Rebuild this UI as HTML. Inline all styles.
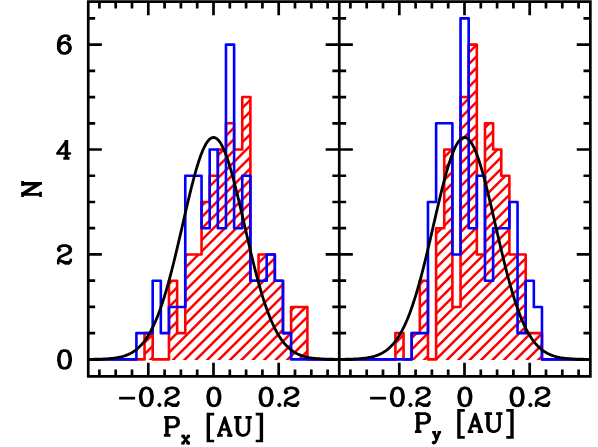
<!DOCTYPE html>
<html><head><meta charset="utf-8"><title>Histogram</title>
<style>html,body{margin:0;padding:0;background:#fff;font-family:"Liberation Sans",sans-serif}svg{display:block}</style>
</head><body>
<svg width="598" height="447" viewBox="0 0 598 447">
<rect width="598" height="447" fill="#fff"/>
<clipPath id="c1"><path d="M136.4 360 L136.4 359.4 L144.54 359.4 L144.54 333.16 L152.69 333.16 L152.69 359.4 L160.83 359.4 L160.83 359.4 L168.97 359.4 L168.97 280.69 L177.12 280.69 L177.12 333.16 L185.26 333.16 L185.26 254.46 L193.4 254.46 L193.4 254.46 L201.54 254.46 L201.54 201.99 L209.69 201.99 L209.69 175.75 L217.83 175.75 L217.83 149.52 L225.97 149.52 L225.97 123.28 L234.12 123.28 L234.12 149.52 L242.26 149.52 L242.26 97.05 L250.4 97.05 L250.4 280.69 L258.55 280.69 L258.55 254.46 L266.69 254.46 L266.69 254.46 L274.83 254.46 L274.83 280.69 L282.97 280.69 L282.97 333.16 L291.12 333.16 L291.12 306.93 L299.26 306.93 L299.26 306.93 L307.4 306.93 L307.4 360 Z"/></clipPath>
<path clip-path="url(#c1)" d="M-162.45 364.4 L109.9 92.05 M-151.03 364.4 L121.32 92.05 M-139.62 364.4 L132.73 92.05 M-128.2 364.4 L144.15 92.05 M-116.79 364.4 L155.56 92.05 M-105.38 364.4 L166.98 92.05 M-93.96 364.4 L178.39 92.05 M-82.54 364.4 L189.81 92.05 M-71.13 364.4 L201.22 92.05 M-59.71 364.4 L212.64 92.05 M-48.3 364.4 L224.05 92.05 M-36.88 364.4 L235.47 92.05 M-25.47 364.4 L246.88 92.05 M-14.05 364.4 L258.3 92.05 M-2.64 364.4 L269.71 92.05 M8.77 364.4 L281.12 92.05 M20.19 364.4 L292.54 92.05 M31.61 364.4 L303.96 92.05 M43.02 364.4 L315.37 92.05 M54.44 364.4 L326.79 92.05 M65.85 364.4 L338.2 92.05 M77.26 364.4 L349.62 92.05 M88.68 364.4 L361.03 92.05 M100.1 364.4 L372.45 92.05 M111.51 364.4 L383.86 92.05 M122.93 364.4 L395.28 92.05 M134.34 364.4 L406.69 92.05 M145.75 364.4 L418.11 92.05 M157.17 364.4 L429.52 92.05 M168.59 364.4 L440.94 92.05 M180 364.4 L452.35 92.05 M191.41 364.4 L463.76 92.05 M202.83 364.4 L475.18 92.05 M214.25 364.4 L486.6 92.05 M225.66 364.4 L498.01 92.05 M237.08 364.4 L509.43 92.05 M248.49 364.4 L520.84 92.05 M259.9 364.4 L532.25 92.05 M271.32 364.4 L543.67 92.05 M282.74 364.4 L555.09 92.05 M294.15 364.4 L566.5 92.05 M305.56 364.4 L577.91 92.05 M316.98 364.4 L589.33 92.05 M328.39 364.4 L600.75 92.05" stroke="#f00" stroke-width="2.5" fill="none"/>
<clipPath id="c2"><path d="M395.4 360 L395.4 333.16 L403.54 333.16 L403.54 359.4 L411.69 359.4 L411.69 333.16 L419.83 333.16 L419.83 280.69 L427.97 280.69 L427.97 359.4 L436.12 359.4 L436.12 228.22 L444.26 228.22 L444.26 149.52 L452.4 149.52 L452.4 306.93 L460.54 306.93 L460.54 97.05 L468.69 97.05 L468.69 44.58 L476.83 44.58 L476.83 254.46 L484.97 254.46 L484.97 123.28 L493.12 123.28 L493.12 149.52 L501.26 149.52 L501.26 175.75 L509.4 175.75 L509.4 254.46 L517.54 254.46 L517.54 254.46 L525.69 254.46 L525.69 333.16 L533.83 333.16 L533.83 333.16 L541.97 333.16 L541.97 360 Z"/></clipPath>
<path clip-path="url(#c2)" d="M42.98 364.4 L367.8 39.58 M54.39 364.4 L379.21 39.58 M65.81 364.4 L390.62 39.58 M77.22 364.4 L402.04 39.58 M88.64 364.4 L413.46 39.58 M100.05 364.4 L424.87 39.58 M111.47 364.4 L436.29 39.58 M122.88 364.4 L447.7 39.58 M134.3 364.4 L459.12 39.58 M145.71 364.4 L470.53 39.58 M157.12 364.4 L481.94 39.58 M168.54 364.4 L493.36 39.58 M179.96 364.4 L504.78 39.58 M191.37 364.4 L516.19 39.58 M202.78 364.4 L527.61 39.58 M214.2 364.4 L539.02 39.58 M225.62 364.4 L550.43 39.58 M237.03 364.4 L561.85 39.58 M248.45 364.4 L573.27 39.58 M259.86 364.4 L584.68 39.58 M271.27 364.4 L596.1 39.58 M282.69 364.4 L607.51 39.58 M294.11 364.4 L618.92 39.58 M305.52 364.4 L630.34 39.58 M316.94 364.4 L641.76 39.58 M328.35 364.4 L653.17 39.58 M339.76 364.4 L664.59 39.58 M351.18 364.4 L676 39.58 M362.6 364.4 L687.41 39.58 M374.01 364.4 L698.83 39.58 M385.42 364.4 L710.24 39.58 M396.84 364.4 L721.66 39.58 M408.25 364.4 L733.08 39.58 M419.67 364.4 L744.49 39.58 M431.09 364.4 L755.9 39.58 M442.5 364.4 L767.32 39.58 M453.91 364.4 L778.73 39.58 M465.33 364.4 L790.15 39.58 M476.75 364.4 L801.57 39.58 M488.16 364.4 L812.98 39.58 M499.58 364.4 L824.39 39.58 M510.99 364.4 L835.81 39.58 M522.4 364.4 L847.22 39.58 M533.82 364.4 L858.64 39.58 M545.24 364.4 L870.06 39.58 M556.65 364.4 L881.47 39.58 M568.06 364.4 L892.88 39.58" stroke="#f00" stroke-width="2.5" fill="none"/>
<path d="M88.25 359.4 L144.54 359.4 L144.54 333.16 L152.69 333.16 L152.69 359.4 L168.97 359.4 L168.97 280.69 L177.12 280.69 L177.12 333.16 L185.26 333.16 L185.26 254.46 L201.54 254.46 L201.54 201.99 L209.69 201.99 L209.69 175.75 L217.83 175.75 L217.83 149.52 L225.97 149.52 L225.97 123.28 L234.12 123.28 L234.12 149.52 L242.26 149.52 L242.26 97.05 L250.4 97.05 L250.4 280.69 L258.55 280.69 L258.55 254.46 L274.83 254.46 L274.83 280.69 L282.97 280.69 L282.97 333.16 L291.12 333.16 L291.12 306.93 L307.4 306.93 L307.4 359.4 L339.25 359.4" stroke="#f00" stroke-width="2.6" fill="none" stroke-linejoin="round"/>
<path d="M339.25 359.4 L395.4 359.4 L395.4 333.16 L403.54 333.16 L403.54 359.4 L411.69 359.4 L411.69 333.16 L419.83 333.16 L419.83 280.69 L427.97 280.69 L427.97 359.4 L436.12 359.4 L436.12 228.22 L444.26 228.22 L444.26 149.52 L452.4 149.52 L452.4 306.93 L460.54 306.93 L460.54 97.05 L468.69 97.05 L468.69 44.58 L476.83 44.58 L476.83 254.46 L484.97 254.46 L484.97 123.28 L493.12 123.28 L493.12 149.52 L501.26 149.52 L501.26 175.75 L509.4 175.75 L509.4 254.46 L525.69 254.46 L525.69 333.16 L541.97 333.16 L541.97 359.4 L590.35 359.4" stroke="#f00" stroke-width="2.6" fill="none" stroke-linejoin="round"/>
<path d="M88.25 359.4 L136.4 359.4 L136.4 333.16 L152.69 333.16 L152.69 280.69 L160.83 280.69 L160.83 333.16 L168.97 333.16 L168.97 306.93 L185.26 306.93 L185.26 175.75 L201.54 175.75 L201.54 228.22 L209.69 228.22 L209.69 149.52 L217.83 149.52 L217.83 228.22 L225.97 228.22 L225.97 44.58 L234.12 44.58 L234.12 228.22 L242.26 228.22 L242.26 175.75 L250.4 175.75 L250.4 280.69 L266.69 280.69 L266.69 254.46 L274.83 254.46 L274.83 280.69 L282.97 280.69 L282.97 333.16 L291.12 333.16 L291.12 359.4 L339.25 359.4" stroke="#00f" stroke-width="2.6" fill="none" stroke-linejoin="round"/>
<path d="M339.25 359.4 L411.69 359.4 L411.69 333.16 L427.97 333.16 L427.97 201.99 L436.12 201.99 L436.12 123.28 L452.4 123.28 L452.4 254.46 L460.54 254.46 L460.54 18.34 L468.69 18.34 L468.69 228.22 L476.83 228.22 L476.83 175.75 L484.97 175.75 L484.97 280.69 L493.12 280.69 L493.12 228.22 L509.4 228.22 L509.4 201.99 L517.54 201.99 L517.54 333.16 L525.69 333.16 L525.69 280.69 L533.83 280.69 L533.83 306.93 L541.97 306.93 L541.97 359.4 L590.35 359.4" stroke="#00f" stroke-width="2.6" fill="none" stroke-linejoin="round"/>
<path d="M88.25 359.34 L89.5 359.33 L90.76 359.32 L92.02 359.3 L93.27 359.29 L94.53 359.27 L95.78 359.24 L97.03 359.22 L98.29 359.19 L99.55 359.15 L100.8 359.11 L102.06 359.07 L103.31 359.01 L104.56 358.96 L105.82 358.89 L107.08 358.81 L108.33 358.72 L109.59 358.62 L110.84 358.51 L112.09 358.38 L113.35 358.24 L114.61 358.07 L115.86 357.89 L117.11 357.69 L118.37 357.46 L119.62 357.2 L120.88 356.91 L122.13 356.59 L123.39 356.24 L124.65 355.84 L125.9 355.4 L127.16 354.92 L128.41 354.39 L129.66 353.8 L130.92 353.15 L132.18 352.44 L133.43 351.66 L134.69 350.81 L135.94 349.88 L137.19 348.87 L138.45 347.77 L139.7 346.57 L140.96 345.28 L142.22 343.88 L143.47 342.37 L144.72 340.74 L145.98 338.99 L147.24 337.12 L148.49 335.11 L149.75 332.97 L151 330.68 L152.25 328.25 L153.51 325.67 L154.76 322.93 L156.02 320.04 L157.28 316.98 L158.53 313.77 L159.78 310.39 L161.04 306.85 L162.3 303.15 L163.55 299.28 L164.81 295.26 L166.06 291.08 L167.31 286.74 L168.57 282.26 L169.82 277.63 L171.08 272.88 L172.33 267.99 L173.59 262.99 L174.84 257.88 L176.1 252.68 L177.36 247.4 L178.61 242.05 L179.87 236.64 L181.12 231.2 L182.38 225.74 L183.63 220.28 L184.88 214.83 L186.14 209.41 L187.39 204.05 L188.65 198.76 L189.91 193.56 L191.16 188.48 L192.42 183.54 L193.67 178.75 L194.93 174.13 L196.18 169.71 L197.44 165.5 L198.69 161.53 L199.94 157.81 L201.2 154.35 L202.45 151.18 L203.71 148.31 L204.97 145.76 L206.22 143.53 L207.47 141.63 L208.73 140.08 L209.99 138.88 L211.24 138.04 L212.5 137.57 L213.75 137.46 L215 137.71 L216.26 138.34 L217.51 139.32 L218.77 140.66 L220.03 142.34 L221.28 144.37 L222.53 146.74 L223.79 149.42 L225.04 152.41 L226.3 155.69 L227.56 159.26 L228.81 163.08 L230.06 167.15 L231.32 171.44 L232.57 175.95 L233.83 180.63 L235.09 185.49 L236.34 190.49 L237.59 195.62 L238.85 200.86 L240.1 206.18 L241.36 211.56 L242.62 216.99 L243.87 222.45 L245.12 227.92 L246.38 233.37 L247.63 238.8 L248.89 244.19 L250.15 249.51 L251.4 254.76 L252.66 259.93 L253.91 265 L255.16 269.95 L256.42 274.79 L257.68 279.49 L258.93 284.06 L260.19 288.49 L261.44 292.76 L262.69 296.88 L263.95 300.84 L265.21 304.64 L266.46 308.28 L267.72 311.76 L268.97 315.07 L270.23 318.22 L271.48 321.21 L272.74 324.04 L273.99 326.71 L275.25 329.24 L276.5 331.61 L277.75 333.84 L279.01 335.93 L280.26 337.88 L281.52 339.71 L282.77 341.4 L284.03 342.98 L285.28 344.45 L286.54 345.81 L287.79 347.06 L289.05 348.22 L290.31 349.28 L291.56 350.26 L292.81 351.16 L294.07 351.98 L295.32 352.73 L296.58 353.42 L297.84 354.04 L299.09 354.61 L300.35 355.12 L301.6 355.58 L302.86 356 L304.11 356.38 L305.37 356.72 L306.62 357.03 L307.88 357.3 L309.13 357.55 L310.38 357.77 L311.64 357.97 L312.89 358.14 L314.15 358.3 L315.4 358.43 L316.66 358.56 L317.91 358.66 L319.17 358.76 L320.43 358.84 L321.68 358.92 L322.94 358.98 L324.19 359.04 L325.44 359.09 L326.7 359.13 L327.96 359.17 L329.21 359.2 L330.47 359.23 L331.72 359.25 L332.98 359.27 L334.23 359.29 L335.49 359.31 L336.74 359.32 L338 359.33 L339.25 359.34" stroke="#000" stroke-width="2.8" fill="none" stroke-linejoin="round"/>
<path d="M339.25 359.34 L340.51 359.33 L341.76 359.32 L343.02 359.3 L344.27 359.29 L345.53 359.27 L346.78 359.24 L348.04 359.22 L349.29 359.19 L350.55 359.15 L351.81 359.11 L353.06 359.07 L354.32 359.01 L355.57 358.95 L356.83 358.89 L358.08 358.81 L359.34 358.72 L360.59 358.62 L361.85 358.51 L363.1 358.38 L364.36 358.23 L365.62 358.07 L366.87 357.89 L368.13 357.68 L369.38 357.45 L370.64 357.2 L371.89 356.91 L373.15 356.59 L374.4 356.23 L375.66 355.84 L376.92 355.4 L378.17 354.91 L379.43 354.38 L380.68 353.79 L381.94 353.14 L383.19 352.43 L384.45 351.65 L385.7 350.8 L386.96 349.87 L388.21 348.85 L389.47 347.75 L390.73 346.55 L391.98 345.26 L393.24 343.85 L394.49 342.34 L395.75 340.71 L397 338.96 L398.26 337.08 L399.51 335.07 L400.77 332.92 L402.02 330.64 L403.28 328.2 L404.54 325.61 L405.79 322.87 L407.05 319.97 L408.3 316.92 L409.56 313.7 L410.81 310.31 L412.07 306.77 L413.32 303.06 L414.58 299.19 L415.84 295.16 L417.09 290.97 L418.35 286.63 L419.6 282.14 L420.86 277.51 L422.11 272.75 L423.37 267.86 L424.62 262.85 L425.88 257.74 L427.13 252.54 L428.39 247.25 L429.65 241.89 L430.9 236.49 L432.16 231.04 L433.41 225.58 L434.67 220.11 L435.92 214.66 L437.18 209.24 L438.43 203.88 L439.69 198.59 L440.95 193.4 L442.2 188.32 L443.46 183.38 L444.71 178.59 L445.97 173.98 L447.22 169.56 L448.48 165.36 L449.73 161.39 L450.99 157.68 L452.25 154.23 L453.5 151.07 L454.76 148.21 L456.01 145.67 L457.27 143.45 L458.52 141.56 L459.78 140.03 L461.03 138.84 L462.29 138.02 L463.54 137.56 L464.8 137.46 L466.06 137.73 L467.31 138.37 L468.57 139.36 L469.82 140.72 L471.08 142.42 L472.33 144.47 L473.59 146.84 L474.84 149.54 L476.1 152.55 L477.36 155.85 L478.61 159.42 L479.87 163.26 L481.12 167.34 L482.38 171.64 L483.63 176.16 L484.89 180.86 L486.14 185.72 L487.4 190.73 L488.65 195.87 L489.91 201.11 L491.17 206.44 L492.42 211.83 L493.68 217.26 L494.93 222.72 L496.19 228.19 L497.44 233.65 L498.7 239.08 L499.95 244.46 L501.21 249.78 L502.47 255.03 L503.72 260.2 L504.98 265.26 L506.23 270.21 L507.49 275.04 L508.74 279.74 L510 284.3 L511.25 288.72 L512.51 292.99 L513.76 297.1 L515.02 301.06 L516.28 304.85 L517.53 308.48 L518.79 311.95 L520.04 315.25 L521.3 318.4 L522.55 321.38 L523.81 324.2 L525.06 326.87 L526.32 329.38 L527.58 331.75 L528.83 333.97 L530.09 336.05 L531.34 338 L532.6 339.81 L533.85 341.51 L535.11 343.08 L536.36 344.54 L537.62 345.89 L538.87 347.14 L540.13 348.29 L541.39 349.35 L542.64 350.32 L543.9 351.21 L545.15 352.03 L546.41 352.78 L547.66 353.46 L548.92 354.08 L550.17 354.64 L551.43 355.15 L552.69 355.61 L553.94 356.03 L555.2 356.41 L556.45 356.75 L557.71 357.05 L558.96 357.32 L560.22 357.57 L561.47 357.78 L562.73 357.98 L563.98 358.15 L565.24 358.31 L566.5 358.44 L567.75 358.56 L569.01 358.67 L570.26 358.76 L571.52 358.85 L572.77 358.92 L574.03 358.98 L575.28 359.04 L576.54 359.09 L577.8 359.13 L579.05 359.17 L580.31 359.2 L581.56 359.23 L582.82 359.25 L584.07 359.28 L585.33 359.29 L586.58 359.31 L587.84 359.32 L589.09 359.33 L590.35 359.34" stroke="#000" stroke-width="2.8" fill="none" stroke-linejoin="round"/>
<path d="M88.25 1.55 H590.35 V376.3 H88.25 Z M339.25 1.55 V376.3 M99.4 1.55 v6.9 M99.4 376.3 v-6.9 M115.7 1.55 v6.9 M115.7 376.3 v-6.9 M132 1.55 v6.9 M132 376.3 v-6.9 M148.3 1.55 v13.6 M148.3 376.3 v-13.6 M164.6 1.55 v6.9 M164.6 376.3 v-6.9 M180.9 1.55 v6.9 M180.9 376.3 v-6.9 M197.2 1.55 v6.9 M197.2 376.3 v-6.9 M213.5 1.55 v13.6 M213.5 376.3 v-13.6 M229.8 1.55 v6.9 M229.8 376.3 v-6.9 M246.1 1.55 v6.9 M246.1 376.3 v-6.9 M262.4 1.55 v6.9 M262.4 376.3 v-6.9 M278.7 1.55 v13.6 M278.7 376.3 v-13.6 M295 1.55 v6.9 M295 376.3 v-6.9 M311.3 1.55 v6.9 M311.3 376.3 v-6.9 M327.6 1.55 v6.9 M327.6 376.3 v-6.9 M350.4 1.55 v6.9 M350.4 376.3 v-6.9 M366.7 1.55 v6.9 M366.7 376.3 v-6.9 M383 1.55 v6.9 M383 376.3 v-6.9 M399.3 1.55 v13.6 M399.3 376.3 v-13.6 M415.6 1.55 v6.9 M415.6 376.3 v-6.9 M431.9 1.55 v6.9 M431.9 376.3 v-6.9 M448.2 1.55 v6.9 M448.2 376.3 v-6.9 M464.5 1.55 v13.6 M464.5 376.3 v-13.6 M480.8 1.55 v6.9 M480.8 376.3 v-6.9 M497.1 1.55 v6.9 M497.1 376.3 v-6.9 M513.4 1.55 v6.9 M513.4 376.3 v-6.9 M529.7 1.55 v13.6 M529.7 376.3 v-13.6 M546 1.55 v6.9 M546 376.3 v-6.9 M562.3 1.55 v6.9 M562.3 376.3 v-6.9 M578.6 1.55 v6.9 M578.6 376.3 v-6.9 M88.25 359.4 h13.6 M325.65 359.4 h27.2 M590.35 359.4 h-13.6 M88.25 333.16 h6.9 M332.35 333.16 h13.8 M590.35 333.16 h-6.9 M88.25 306.93 h6.9 M332.35 306.93 h13.8 M590.35 306.93 h-6.9 M88.25 280.69 h6.9 M332.35 280.69 h13.8 M590.35 280.69 h-6.9 M88.25 254.46 h13.6 M325.65 254.46 h27.2 M590.35 254.46 h-13.6 M88.25 228.22 h6.9 M332.35 228.22 h13.8 M590.35 228.22 h-6.9 M88.25 201.99 h6.9 M332.35 201.99 h13.8 M590.35 201.99 h-6.9 M88.25 175.75 h6.9 M332.35 175.75 h13.8 M590.35 175.75 h-6.9 M88.25 149.52 h13.6 M325.65 149.52 h27.2 M590.35 149.52 h-13.6 M88.25 123.28 h6.9 M332.35 123.28 h13.8 M590.35 123.28 h-6.9 M88.25 97.05 h6.9 M332.35 97.05 h13.8 M590.35 97.05 h-6.9 M88.25 70.81 h6.9 M332.35 70.81 h13.8 M590.35 70.81 h-6.9 M88.25 44.58 h13.6 M325.65 44.58 h27.2 M590.35 44.58 h-13.6 M88.25 18.34 h6.9 M332.35 18.34 h13.8 M590.35 18.34 h-6.9" stroke="#000" stroke-width="2.7" fill="none" stroke-linejoin="miter"/>
<path d="M68.79 38.26 L67.91 39.1 L68.79 39.94 L69.67 39.1 L69.67 38.26 L68.79 36.57 L67.04 35.73 L64.4 35.73 L61.76 36.57 L60.01 38.26 L59.13 39.94 L58.25 43.32 L58.25 48.37 L59.13 50.9 L60.89 52.59 L63.52 53.43 L65.28 53.43 L67.91 52.59 L69.67 50.9 L70.55 48.37 L70.55 47.53 L69.67 45 L67.91 43.32 L65.28 42.47 L64.4 42.47 L61.76 43.32 L60.01 45 L59.13 47.53 M64.4 35.73 L62.64 36.57 L60.89 38.26 L60.01 39.94 L59.13 43.32 L59.13 48.37 L60.01 50.9 L61.76 52.59 L63.52 53.43 M65.28 53.43 L67.04 52.59 L68.79 50.9 L69.67 48.37 L69.67 47.53 L68.79 45 L67.04 43.32 L65.28 42.47" stroke="#000" stroke-width="2.7" fill="none" stroke-linecap="round" stroke-linejoin="round"/>
<path d="M66.41 141.37 L57.35 153.51 L69.95 153.51" stroke="#000" stroke-width="2.7" fill="none" stroke-linecap="round" stroke-linejoin="round"/><path d="M65.98 141.37 L65.98 158.37 M66.84 141.37 L66.84 158.37 M64.69 158.37 L68.14 158.37" stroke="#000" stroke-width="2.7" fill="none" stroke-linecap="square"/>
<path d="M59.14 248.98 L60.04 249.82 L59.14 250.67 L58.25 249.82 L58.25 248.98 L59.14 247.3 L60.04 246.45 L62.71 245.61 L66.29 245.61 L68.96 246.45 L69.86 247.3 L70.75 248.98 L70.75 250.67 L69.86 252.35 L67.18 254.04 L62.71 255.72 L60.93 256.57 L59.14 258.25 L58.25 260.78 L58.25 263.31 M66.29 245.61 L68.07 246.45 L68.96 247.3 L69.86 248.98 L69.86 250.67 L68.96 252.35 L66.29 254.04 L62.71 255.72 M58.25 261.62 L59.14 260.78 L60.93 260.78 L65.39 262.47 L68.07 262.47 L69.86 261.62 L70.75 260.78 M60.93 260.78 L65.39 263.31 L68.96 263.31 L69.86 262.47 L70.75 260.78 L70.75 259.94" stroke="#000" stroke-width="2.7" fill="none" stroke-linecap="round" stroke-linejoin="round"/>
<path d="M63.68 350.55 L61.06 351.39 L59.32 353.92 L58.45 358.14 L58.45 360.66 L59.32 364.88 L61.06 367.41 L63.68 368.25 L65.42 368.25 L68.04 367.41 L69.78 364.88 L70.65 360.66 L70.65 358.14 L69.78 353.92 L68.04 351.39 L65.42 350.55 L63.68 350.55 M63.68 350.55 L61.94 351.39 L61.06 352.24 L60.19 353.92 L59.32 358.14 L59.32 360.66 L60.19 364.88 L61.06 366.56 L61.94 367.41 L63.68 368.25 M65.42 368.25 L67.16 367.41 L68.04 366.56 L68.91 364.88 L69.78 360.66 L69.78 358.14 L68.91 353.92 L68.04 352.24 L67.16 351.39 L65.42 350.55" stroke="#000" stroke-width="2.7" fill="none" stroke-linecap="round" stroke-linejoin="round"/>
<path d="M22.55 193.59 L38.84 183.36 M24.26 193.59 L40.55 183.36" stroke="#000" stroke-width="2.7" fill="none" stroke-linecap="round" stroke-linejoin="round"/><path d="M22.55 194.44 L40.55 194.44 M22.55 183.36 L40.55 183.36 M22.55 184.04 L37.98 184.04 M22.55 195.55 L22.55 193.59 M22.55 184.55 L22.55 182.25 M40.55 195.55 L40.55 193.08" stroke="#000" stroke-width="2.7" fill="none" stroke-linecap="square"/>
<path d="M120.45 398.15 L133.75 398.15" stroke="#000" stroke-width="2.7" fill="none" stroke-linecap="square"/>
<path d="M145.48 387.95 L142.86 388.8 L141.12 391.34 L140.25 395.58 L140.25 398.12 L141.12 402.36 L142.86 404.9 L145.48 405.75 L147.22 405.75 L149.84 404.9 L151.58 402.36 L152.45 398.12 L152.45 395.58 L151.58 391.34 L149.84 388.8 L147.22 387.95 L145.48 387.95 M145.48 387.95 L143.74 388.8 L142.86 389.65 L141.99 391.34 L141.12 395.58 L141.12 398.12 L141.99 402.36 L142.86 404.05 L143.74 404.9 L145.48 405.75 M147.22 405.75 L148.96 404.9 L149.84 404.05 L150.71 402.36 L151.58 398.12 L151.58 395.58 L150.71 391.34 L149.84 389.65 L148.96 388.8 L147.22 387.95" stroke="#000" stroke-width="2.7" fill="none" stroke-linecap="round" stroke-linejoin="round"/>
<path d="M159.45 404.11 L158.52 405 L159.45 405.88 L160.38 405 L159.45 404.11" stroke="#000" stroke-width="2.43" fill="none" stroke-linecap="round" stroke-linejoin="round"/>
<path d="M166.65 391.34 L167.55 392.19 L166.65 393.04 L165.75 392.19 L165.75 391.34 L166.65 389.65 L167.55 388.8 L170.25 387.95 L173.85 387.95 L176.55 388.8 L177.45 389.65 L178.35 391.34 L178.35 393.04 L177.45 394.73 L174.75 396.43 L170.25 398.12 L168.45 398.97 L166.65 400.66 L165.75 403.21 L165.75 405.75 M173.85 387.95 L175.65 388.8 L176.55 389.65 L177.45 391.34 L177.45 393.04 L176.55 394.73 L173.85 396.43 L170.25 398.12 M165.75 404.05 L166.65 403.21 L168.45 403.21 L172.95 404.9 L175.65 404.9 L177.45 404.05 L178.35 403.21 M168.45 403.21 L172.95 405.75 L176.55 405.75 L177.45 404.9 L178.35 403.21 L178.35 402.36" stroke="#000" stroke-width="2.7" fill="none" stroke-linecap="round" stroke-linejoin="round"/>
<path d="M213.02 387.95 L210.39 388.8 L208.63 391.34 L207.75 395.58 L207.75 398.12 L208.63 402.36 L210.39 404.9 L213.02 405.75 L214.78 405.75 L217.41 404.9 L219.17 402.36 L220.05 398.12 L220.05 395.58 L219.17 391.34 L217.41 388.8 L214.78 387.95 L213.02 387.95 M213.02 387.95 L211.26 388.8 L210.39 389.65 L209.51 391.34 L208.63 395.58 L208.63 398.12 L209.51 402.36 L210.39 404.05 L211.26 404.9 L213.02 405.75 M214.78 405.75 L216.54 404.9 L217.41 404.05 L218.29 402.36 L219.17 398.12 L219.17 395.58 L218.29 391.34 L217.41 389.65 L216.54 388.8 L214.78 387.95" stroke="#000" stroke-width="2.7" fill="none" stroke-linecap="round" stroke-linejoin="round"/>
<path d="M265.22 387.95 L262.59 388.8 L260.83 391.34 L259.95 395.58 L259.95 398.12 L260.83 402.36 L262.59 404.9 L265.22 405.75 L266.98 405.75 L269.61 404.9 L271.37 402.36 L272.25 398.12 L272.25 395.58 L271.37 391.34 L269.61 388.8 L266.98 387.95 L265.22 387.95 M265.22 387.95 L263.46 388.8 L262.59 389.65 L261.71 391.34 L260.83 395.58 L260.83 398.12 L261.71 402.36 L262.59 404.05 L263.46 404.9 L265.22 405.75 M266.98 405.75 L268.74 404.9 L269.61 404.05 L270.49 402.36 L271.37 398.12 L271.37 395.58 L270.49 391.34 L269.61 389.65 L268.74 388.8 L266.98 387.95" stroke="#000" stroke-width="2.7" fill="none" stroke-linecap="round" stroke-linejoin="round"/>
<path d="M279.35 404.11 L278.41 405 L279.35 405.88 L280.28 405 L279.35 404.11" stroke="#000" stroke-width="2.43" fill="none" stroke-linecap="round" stroke-linejoin="round"/>
<path d="M286.06 391.34 L286.98 392.19 L286.06 393.04 L285.15 392.19 L285.15 391.34 L286.06 389.65 L286.98 388.8 L289.72 387.95 L293.38 387.95 L296.12 388.8 L297.04 389.65 L297.95 391.34 L297.95 393.04 L297.04 394.73 L294.29 396.43 L289.72 398.12 L287.89 398.97 L286.06 400.66 L285.15 403.21 L285.15 405.75 M293.38 387.95 L295.21 388.8 L296.12 389.65 L297.04 391.34 L297.04 393.04 L296.12 394.73 L293.38 396.43 L289.72 398.12 M285.15 404.05 L286.06 403.21 L287.89 403.21 L292.46 404.9 L295.21 404.9 L297.04 404.05 L297.95 403.21 M287.89 403.21 L292.46 405.75 L296.12 405.75 L297.04 404.9 L297.95 403.21 L297.95 402.36" stroke="#000" stroke-width="2.7" fill="none" stroke-linecap="round" stroke-linejoin="round"/>
<path d="M371.45 398.15 L384.75 398.15" stroke="#000" stroke-width="2.7" fill="none" stroke-linecap="square"/>
<path d="M396.48 387.95 L393.86 388.8 L392.12 391.34 L391.25 395.58 L391.25 398.12 L392.12 402.36 L393.86 404.9 L396.48 405.75 L398.22 405.75 L400.84 404.9 L402.58 402.36 L403.45 398.12 L403.45 395.58 L402.58 391.34 L400.84 388.8 L398.22 387.95 L396.48 387.95 M396.48 387.95 L394.74 388.8 L393.86 389.65 L392.99 391.34 L392.12 395.58 L392.12 398.12 L392.99 402.36 L393.86 404.05 L394.74 404.9 L396.48 405.75 M398.22 405.75 L399.96 404.9 L400.84 404.05 L401.71 402.36 L402.58 398.12 L402.58 395.58 L401.71 391.34 L400.84 389.65 L399.96 388.8 L398.22 387.95" stroke="#000" stroke-width="2.7" fill="none" stroke-linecap="round" stroke-linejoin="round"/>
<path d="M410.45 404.11 L409.51 405 L410.45 405.88 L411.38 405 L410.45 404.11" stroke="#000" stroke-width="2.43" fill="none" stroke-linecap="round" stroke-linejoin="round"/>
<path d="M417.65 391.34 L418.55 392.19 L417.65 393.04 L416.75 392.19 L416.75 391.34 L417.65 389.65 L418.55 388.8 L421.25 387.95 L424.85 387.95 L427.55 388.8 L428.45 389.65 L429.35 391.34 L429.35 393.04 L428.45 394.73 L425.75 396.43 L421.25 398.12 L419.45 398.97 L417.65 400.66 L416.75 403.21 L416.75 405.75 M424.85 387.95 L426.65 388.8 L427.55 389.65 L428.45 391.34 L428.45 393.04 L427.55 394.73 L424.85 396.43 L421.25 398.12 M416.75 404.05 L417.65 403.21 L419.45 403.21 L423.95 404.9 L426.65 404.9 L428.45 404.05 L429.35 403.21 M419.45 403.21 L423.95 405.75 L427.55 405.75 L428.45 404.9 L429.35 403.21 L429.35 402.36" stroke="#000" stroke-width="2.7" fill="none" stroke-linecap="round" stroke-linejoin="round"/>
<path d="M464.02 387.95 L461.39 388.8 L459.63 391.34 L458.75 395.58 L458.75 398.12 L459.63 402.36 L461.39 404.9 L464.02 405.75 L465.78 405.75 L468.41 404.9 L470.17 402.36 L471.05 398.12 L471.05 395.58 L470.17 391.34 L468.41 388.8 L465.78 387.95 L464.02 387.95 M464.02 387.95 L462.26 388.8 L461.39 389.65 L460.51 391.34 L459.63 395.58 L459.63 398.12 L460.51 402.36 L461.39 404.05 L462.26 404.9 L464.02 405.75 M465.78 405.75 L467.54 404.9 L468.41 404.05 L469.29 402.36 L470.17 398.12 L470.17 395.58 L469.29 391.34 L468.41 389.65 L467.54 388.8 L465.78 387.95" stroke="#000" stroke-width="2.7" fill="none" stroke-linecap="round" stroke-linejoin="round"/>
<path d="M516.22 387.95 L513.59 388.8 L511.83 391.34 L510.95 395.58 L510.95 398.12 L511.83 402.36 L513.59 404.9 L516.22 405.75 L517.98 405.75 L520.61 404.9 L522.37 402.36 L523.25 398.12 L523.25 395.58 L522.37 391.34 L520.61 388.8 L517.98 387.95 L516.22 387.95 M516.22 387.95 L514.46 388.8 L513.59 389.65 L512.71 391.34 L511.83 395.58 L511.83 398.12 L512.71 402.36 L513.59 404.05 L514.46 404.9 L516.22 405.75 M517.98 405.75 L519.74 404.9 L520.61 404.05 L521.49 402.36 L522.37 398.12 L522.37 395.58 L521.49 391.34 L520.61 389.65 L519.74 388.8 L517.98 387.95" stroke="#000" stroke-width="2.7" fill="none" stroke-linecap="round" stroke-linejoin="round"/>
<path d="M530.35 404.11 L529.42 405 L530.35 405.88 L531.29 405 L530.35 404.11" stroke="#000" stroke-width="2.43" fill="none" stroke-linecap="round" stroke-linejoin="round"/>
<path d="M537.06 391.34 L537.98 392.19 L537.06 393.04 L536.15 392.19 L536.15 391.34 L537.06 389.65 L537.98 388.8 L540.72 387.95 L544.38 387.95 L547.12 388.8 L548.04 389.65 L548.95 391.34 L548.95 393.04 L548.04 394.73 L545.29 396.43 L540.72 398.12 L538.89 398.97 L537.06 400.66 L536.15 403.21 L536.15 405.75 M544.38 387.95 L546.21 388.8 L547.12 389.65 L548.04 391.34 L548.04 393.04 L547.12 394.73 L544.38 396.43 L540.72 398.12 M536.15 404.05 L537.06 403.21 L538.89 403.21 L543.46 404.9 L546.21 404.9 L548.04 404.05 L548.95 403.21 M538.89 403.21 L543.46 405.75 L547.12 405.75 L548.04 404.9 L548.95 403.21 L548.95 402.36" stroke="#000" stroke-width="2.7" fill="none" stroke-linecap="round" stroke-linejoin="round"/>
<path d="M165.25 417.35 L174.26 417.35 L176.83 418.21 L177.69 419.06 L178.55 420.78 L178.55 423.35 L177.69 425.06 L176.83 425.92 L174.26 426.78 L167.4 426.78 M174.26 417.35 L175.98 418.21 L176.83 419.06 L177.69 420.78 L177.69 423.35 L176.83 425.06 L175.98 425.92 L174.26 426.78" stroke="#000" stroke-width="2.7" fill="none" stroke-linecap="round" stroke-linejoin="round"/><path d="M166.54 417.35 L166.54 435.35 M167.4 417.35 L167.4 435.35 M165.25 435.35 L169.11 435.35" stroke="#000" stroke-width="2.7" fill="none" stroke-linecap="square"/>
<path d="M207.95 414.15 L207.95 441 M208.65 414.15 L208.65 441 M207.95 414.15 L212.85 414.15 M207.95 441 L212.85 441" stroke="#000" stroke-width="2.7" fill="none" stroke-linecap="square"/>
<path d="M224.75 417.75 L218.79 435.35 M224.75 417.75 L230.71 435.35 M224.75 420.26 L229.86 435.35" stroke="#000" stroke-width="2.7" fill="none" stroke-linecap="round" stroke-linejoin="round"/><path d="M221.77 429.48 L227.3 429.48 M218.45 435.35 L221.34 435.35 M228.5 435.35 L231.05 435.35" stroke="#000" stroke-width="2.7" fill="none" stroke-linecap="square"/>
<path d="M236.98 417.35 L236.98 430.21 L237.84 432.78 L239.54 434.49 L242.1 435.35 L243.8 435.35 L246.36 434.49 L248.06 432.78 L248.92 430.21 L248.92 417.35 M237.84 417.35 L237.84 430.21 L238.69 432.78 L240.39 434.49 L242.1 435.35" stroke="#000" stroke-width="2.7" fill="none" stroke-linecap="round" stroke-linejoin="round"/><path d="M235.45 417.35 L240.14 417.35 M246.87 417.35 L250.45 417.35" stroke="#000" stroke-width="2.7" fill="none" stroke-linecap="square"/>
<path d="M261.08 414.15 L261.08 441 M261.75 414.15 L261.75 441 M257.05 414.15 L261.75 414.15 M257.05 441 L261.75 441" stroke="#000" stroke-width="2.7" fill="none" stroke-linecap="square"/>
<path d="M182.96 436.1 L187.98 443.1 M183.42 436.1 L188.44 443.1 M188.44 436.1 L182.96 443.1" stroke="#000" stroke-width="2.6" fill="none" stroke-linecap="round" stroke-linejoin="round"/><path d="M182.69 436.1 L183.69 436.1 M188.07 436.1 L188.8 436.1 M182.6 443.1 L183.33 443.1 M187.71 443.1 L188.71 443.1" stroke="#000" stroke-width="2.6" fill="none" stroke-linecap="square"/>
<path d="M416.25 413.65 L425.26 413.65 L427.83 414.51 L428.69 415.36 L429.55 417.08 L429.55 419.65 L428.69 421.36 L427.83 422.22 L425.26 423.08 L418.4 423.08 M425.26 413.65 L426.98 414.51 L427.83 415.36 L428.69 417.08 L428.69 419.65 L427.83 421.36 L426.98 422.22 L425.26 423.08" stroke="#000" stroke-width="2.7" fill="none" stroke-linecap="round" stroke-linejoin="round"/><path d="M417.54 413.65 L417.54 431.65 M418.4 413.65 L418.4 431.65 M416.25 431.65 L420.11 431.65" stroke="#000" stroke-width="2.7" fill="none" stroke-linecap="square"/>
<path d="M458.55 410.45 L458.55 437.3 M459.25 410.45 L459.25 437.3 M458.55 410.45 L463.45 410.45 M458.55 437.3 L463.45 437.3" stroke="#000" stroke-width="2.7" fill="none" stroke-linecap="square"/>
<path d="M475.35 414.05 L469.39 431.65 M475.35 414.05 L481.31 431.65 M475.35 416.56 L480.46 431.65" stroke="#000" stroke-width="2.7" fill="none" stroke-linecap="round" stroke-linejoin="round"/><path d="M472.37 425.78 L477.9 425.78 M469.05 431.65 L471.94 431.65 M479.1 431.65 L481.65 431.65" stroke="#000" stroke-width="2.7" fill="none" stroke-linecap="square"/>
<path d="M487.58 413.65 L487.58 426.51 L488.44 429.08 L490.14 430.79 L492.7 431.65 L494.4 431.65 L496.96 430.79 L498.66 429.08 L499.52 426.51 L499.52 413.65 M488.44 413.65 L488.44 426.51 L489.29 429.08 L490.99 430.79 L492.7 431.65" stroke="#000" stroke-width="2.7" fill="none" stroke-linecap="round" stroke-linejoin="round"/><path d="M486.05 413.65 L490.74 413.65 M497.47 413.65 L501.05 413.65" stroke="#000" stroke-width="2.7" fill="none" stroke-linecap="square"/>
<path d="M511.68 410.45 L511.68 437.3 M512.35 410.45 L512.35 437.3 M507.65 410.45 L512.35 410.45 M507.65 437.3 L512.35 437.3" stroke="#000" stroke-width="2.7" fill="none" stroke-linecap="square"/>
<path d="M433.91 432.3 L436.63 439.5 M434.36 432.3 L436.63 438.47 M439.35 432.3 L436.63 439.5 L435.72 441.56 L434.81 442.59 L433.91 443.1 L433.45 443.1 L433 442.59 L433.45 442.07 L433.91 442.59" stroke="#000" stroke-width="2.6" fill="none" stroke-linecap="round" stroke-linejoin="round"/><path d="M433.54 432.3 L434.72 432.3 M438.89 432.3 L439.8 432.3" stroke="#000" stroke-width="2.6" fill="none" stroke-linecap="square"/>
</svg>
</body></html>
